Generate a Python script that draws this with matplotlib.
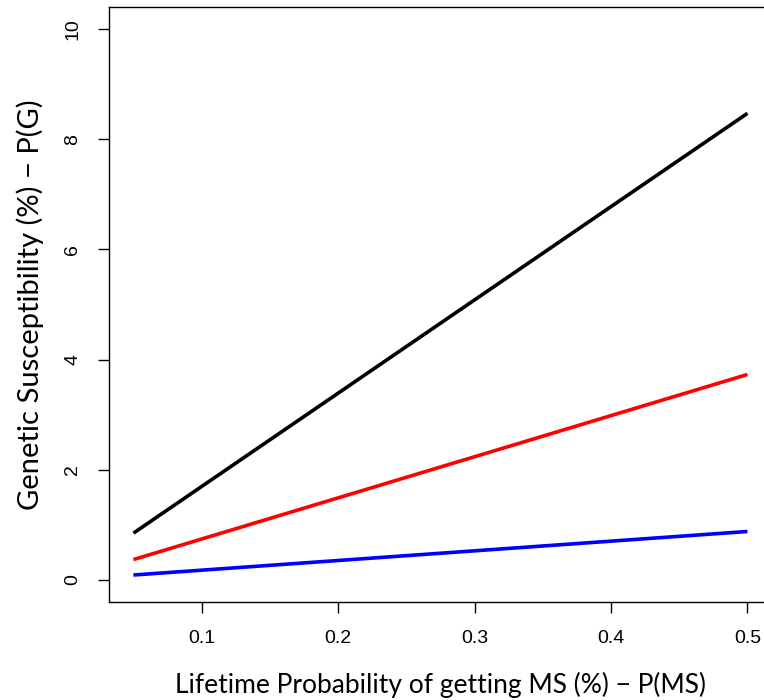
import numpy as np
import matplotlib
matplotlib.use('Agg')
import matplotlib.pyplot as plt

params = {
    'font.family': ['Liberation Sans', 'DejaVu Sans'],
    'xtick.labelsize': 14,
    'ytick.labelsize': 14,
    'axes.linewidth': 1.0,
}
plt.rcParams.update(params)

# lifetime probability of MS (%) at both ends of the lines
p_ms = [0.05, 0.5]
# genetic susceptibility P(G) for each curve
g_black = [0.85, 8.47]
g_red = [0.37, 3.73]
g_blue = [0.09, 0.88]

x_ticks = [0.1, 0.2, 0.3, 0.4, 0.5]
y_ticks = [0, 2, 4, 6, 8, 10]

fig = plt.figure(figsize=(7.64, 7.0), dpi=100)
# R-style box, right edge falls just outside the picture
ax = fig.add_axes([0.1425, 0.14, 0.868, 0.85])

ax.plot(p_ms, g_black, color='black', lw=2.6, solid_capstyle='butt')
ax.plot(p_ms, g_red, color='#ff0000', lw=2.6, solid_capstyle='butt')
ax.plot(p_ms, g_blue, color='#0000ff', lw=2.6, solid_capstyle='butt')

ax.set_xlim(0.032, 0.518)
ax.set_ylim(-0.4, 10.4)
ax.set_xticks(x_ticks)
ax.set_xticklabels([str(t) for t in x_ticks])
ax.set_yticks(y_ticks)
ax.set_yticklabels([str(t) for t in y_ticks], rotation=90, va='center')
ax.tick_params(direction='out', length=8, width=1.0, pad=12)

ax.set_xlabel('Lifetime Probability of getting MS (%) \u2212 P(MS)',
              family=['Lato', 'DejaVu Sans'], size=19, va='baseline')
ax.set_ylabel('Genetic Susceptibility (%) \u2212 P(G)',
              family=['Lato', 'DejaVu Sans'], size=21, va='baseline')
ax.xaxis.set_label_coords(0.5, -0.153)
ax.yaxis.set_label_coords(-0.105, 0.5)

fig.savefig('out.png', dpi=100)
